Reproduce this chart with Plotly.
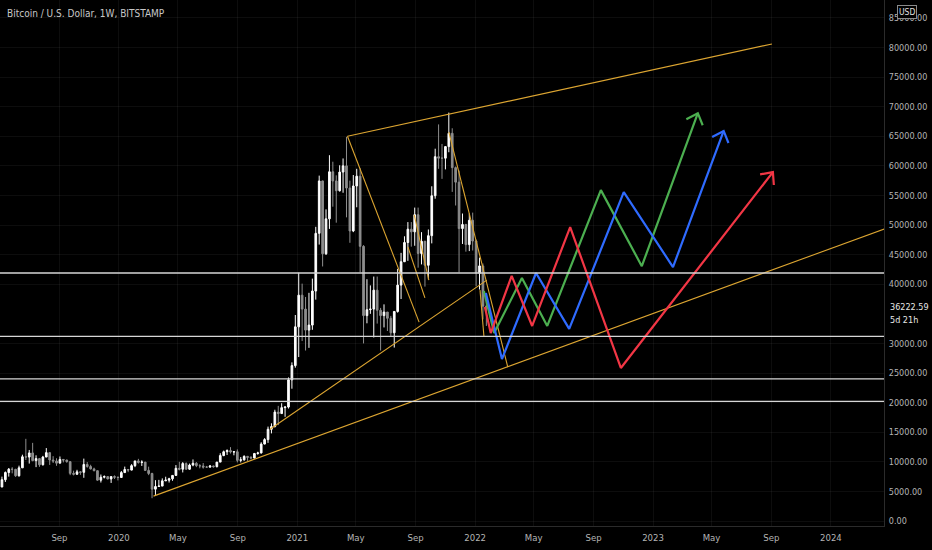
import numpy as np
import pandas as pd
import plotly.graph_objects as go

# weekly BTCUSD candles (Bitstamp), week of 2019-05-06 .. 2022-01-24
opens = [5750, 6980, 8190, 8750, 8730, 7640, 8980, 10850, 10800, 11500,
         10200, 10540, 9500, 10800, 11550, 10300, 10140, 9770, 10400, 10300,
         10030, 8050, 7900, 8300, 8220, 9550, 9200, 8800, 8500, 6900,
         7400, 7500, 7100, 7500, 7400,
         7350, 8180, 8700, 8600, 9350, 10150, 9900, 9950, 8550, 8030,
         5380, 5830, 5900, 6780, 6900, 7130, 7700, 8900, 8750, 9700,
         8750, 9450, 9750, 9350, 9300, 9100, 9100, 9300, 9180, 9950,
         11050, 11700, 11900, 11650, 11700, 10250, 10330, 10920, 10750, 10650,
         11400, 11500, 13000, 13750, 15500, 15950, 18400, 18150, 19150, 19250,
         23850, 26250,
         32800, 38150, 35800, 32250, 33100, 38850, 48600, 57450, 45150, 51050,
         59000, 57450, 55800, 58950, 60000, 56250, 49000, 56600, 58250, 46400,
         34700, 35700, 35800, 39000, 35600, 34700, 35300, 34250, 31800, 35400,
         39850, 43800, 47050, 49300, 48850, 51750, 45200, 47250, 43200, 48200,
         54950, 61550, 61300, 61300, 63250, 65500, 59700, 57250, 49400, 50100,
         46700, 50800,
         47300, 41850, 43100, 36300]
highs = [7500, 8370, 8950, 9090, 8810, 9350, 11200, 13880, 12000, 13200,
         11100, 10650, 11000, 12320, 11550, 10950, 10600, 10900, 10480, 10350,
         10050, 8500, 8650, 8400, 10540, 9950, 9500, 9000, 8500, 7850,
         7700, 7600, 7500, 7700, 7500,
         8450, 9190, 8800, 9600, 10150, 10500, 10250, 9950, 9180, 8150,
         6900, 6950, 7200, 7480, 7300, 7750, 9450, 10000, 9950, 9900,
         9700, 10400, 9950, 9600, 9800, 9300, 9450, 9350, 9950, 11450,
         11900, 12100, 12480, 11800, 12100, 10800, 11100, 10990, 10950, 11500,
         11700, 13300, 14000, 15950, 16500, 18800, 19450, 19900, 19400, 24250,
         26800, 34800,
         41950, 40100, 37850, 38550, 40950, 49700, 58350, 57500, 52650, 61800,
         60700, 58400, 60100, 61250, 64900, 57500, 58450, 59500, 59600, 46600,
         40850, 39800, 41300, 41300, 36000, 36600, 35300, 34650, 35400, 42600,
         45300, 48100, 50500, 50500, 52950, 52950, 48800, 47350, 49250, 56550,
         62900, 67000, 63700, 63000, 69000, 66350, 59900, 59200, 51950, 50200,
         51950, 52100,
         47550, 44500, 43500, 37500]
lows = [5700, 6600, 7500, 8050, 7450, 7500, 8950, 10300, 9700, 10100,
        9100, 9150, 9370, 10800, 9470, 9800, 9320, 9750, 9900, 9850,
        7750, 7700, 7800, 7800, 7300, 9000, 8700, 8400, 6800, 6500,
        7200, 7050, 6430, 7100, 6850,
        7350, 8100, 8250, 8550, 9100, 9700, 9300, 8450, 7750, 3850,
        4400, 5750, 5900, 6750, 6500, 6800, 7650, 8550, 8200, 8700,
        8650, 9250, 9100, 8900, 8850, 8950, 9050, 9000, 9050, 9950,
        10950, 11150, 11400, 11100, 9900, 9900, 10200, 10150, 10400, 10550,
        11200, 11400, 12950, 13200, 14800, 15800, 16200, 18100, 17600, 19000,
        22350, 25900,
        27700, 30400, 28800, 29250, 32300, 37400, 46700, 43000, 44950, 49350,
        53100, 50400, 55650, 55450, 51300, 47000, 48800, 53000, 42000, 30000,
        33400, 35000, 31000, 33350, 28800, 32700, 32100, 31100, 29300, 35200,
        37500, 43750, 43950, 46350, 46500, 42800, 43350, 39600, 40800, 46900,
        54450, 59500, 57800, 59400, 62300, 55600, 53300, 42000, 46800, 45500,
        45600, 45700,
        39650, 39100, 34050, 32950]
closes = [6980, 8190, 8750, 8730, 7640, 8980, 10850, 10800, 11500, 10200,
          10540, 9500, 10800, 11550, 10300, 10140, 9770, 10400, 10300, 10030,
          8050, 7900, 8300, 8220, 9550, 9200, 8800, 8500, 6900, 7400,
          7500, 7100, 7500, 7400, 7350,
          8180, 8700, 8600, 9350, 10150, 9900, 9950, 8550, 8030, 5380,
          5830, 5900, 6780, 6900, 7130, 7700, 8900, 8750, 9700, 8750,
          9450, 9750, 9350, 9300, 9100, 9100, 9300, 9180, 9950, 11050,
          11700, 11900, 11650, 11700, 10250, 10330, 10920, 10750, 10650, 11400,
          11500, 13000, 13750, 15500, 15950, 18400, 18150, 19150, 19250, 23850,
          26250, 32800,
          38150, 35800, 32250, 33100, 38850, 48600, 57450, 45150, 51050, 59000,
          57450, 55800, 58950, 60000, 56250, 49000, 56600, 58250, 46400, 34700,
          35700, 35800, 39000, 35600, 34700, 35300, 34250, 31800, 35400, 39850,
          43800, 47050, 49300, 48850, 51750, 45200, 47250, 43200, 48200, 54950,
          61550, 61300, 61300, 63250, 65500, 59700, 57250, 49400, 50100, 46700,
          50800, 47300,
          41850, 43100, 36300, 36222.59]

# horizontal support / resistance levels
levels = [41900, 31200, 24000, 20200]

# orange trend lines: start date, start price, end date, end price
trend_x0 = ["2021-04-14", "2021-04-14", "2021-08-29", "2021-08-16", "2021-11-08",
            "2020-03-12", "2020-11-06", "2022-01-11"]
trend_y0 = [65000, 65000, 51700, 46300, 65700, 4200, 15500, 39000]
trend_x1 = ["2023-09-02", "2021-09-08", "2021-09-28", "2021-09-20", "2022-03-09",
            "2024-05-15", "2022-01-25", "2022-01-19"]
trend_y1 = [80600, 33600, 40700, 37700, 26000, 50100, 40700, 31250]

# projected paths
green_x = ["2022-01-19", "2022-02-09", "2022-04-07", "2022-05-29", "2022-09-16",
           "2022-12-09", "2023-04-03"]
green_y = [38850, 31750, 41050, 32950, 55900, 43050, 68900]
blue_x = ["2022-01-23", "2022-02-25", "2022-05-06", "2022-07-13", "2022-11-02",
          "2023-02-11", "2023-05-26"]
blue_y = [38500, 27350, 41900, 32450, 55550, 42900, 65900]
red_x = ["2022-01-21", "2022-02-02", "2022-03-17", "2022-04-28", "2022-07-15",
         "2022-10-27", "2023-09-04"]
red_y = [36150, 31750, 41400, 32950, 49650, 25850, 58950]

tick_dates = ["2019-09-01", "2020-01-01", "2020-05-01", "2020-09-01", "2021-01-01",
              "2021-05-01", "2021-09-01", "2022-01-01", "2022-05-01", "2022-09-01",
              "2023-01-01", "2023-05-01", "2023-09-01", "2024-01-01"]
tick_text = ["Sep", "2020", "May", "Sep", "2021", "May", "Sep", "2022", "May", "Sep",
             "2023", "May", "Sep", "2024"]
price_ticks = [0, 5000, 10000, 15000, 20000, 25000, 30000, 40000, 45000, 50000,
               55000, 60000, 65000, 70000, 75000, 80000, 85000]

W, H = 932, 550
M_L, M_R, M_T, M_B = 0, 48, 0, 24
x_range = ["2019-05-02", "2024-04-19"]
y_range = [-845, 88020]

FONT = "Liberation Sans Narrow, DejaVu Sans Condensed, Roboto, sans-serif"
ORANGE = "#dca531"

week_start = pd.date_range("2019-05-06", periods=len(closes), freq="W-MON")

fig = go.Figure()

fig.add_trace(go.Candlestick(
    x=week_start, open=opens, high=highs, low=lows, close=closes,
    increasing=dict(line=dict(color="#ffffff", width=1), fillcolor="#ffffff"),
    decreasing=dict(line=dict(color="#8e8e8e", width=1), fillcolor="#8e8e8e"),
    whiskerwidth=0, showlegend=False, hoverinfo="skip"))

for lv in levels:
    fig.add_hline(y=lv, line=dict(color="#d6d6d6", width=1.3), layer="above")

tx, ty = [], []
for a, b, c, d in zip(trend_x0, trend_y0, trend_x1, trend_y1):
    tx += [a, c, None]
    ty += [b, d, None]
fig.add_trace(go.Scatter(x=tx, y=ty, mode="lines", line=dict(color=ORANGE, width=1.1),
                         showlegend=False, hoverinfo="skip"))

# pixel scale, used to give the arrowheads a fixed on-screen size
x0_ts, x1_ts = pd.Timestamp(x_range[0]), pd.Timestamp(x_range[1])
px_per_day = (W - M_L - M_R) / ((x1_ts - x0_ts).days)
px_per_usd = (H - M_T - M_B) / (y_range[1] - y_range[0])


def arrow_head(xs, ys, length=13, angle=42):
    tip_t, prev_t = pd.Timestamp(xs[-1]), pd.Timestamp(xs[-2])
    dx = (tip_t - prev_t).days * px_per_day
    dy = (ys[-1] - ys[-2]) * px_per_usd
    n = np.hypot(dx, dy)
    ux, uy = -dx / n, -dy / n
    hx, hy = [], []
    for sgn in (1, -1):
        a = np.radians(angle * sgn)
        rx = ux * np.cos(a) - uy * np.sin(a)
        ry = ux * np.sin(a) + uy * np.cos(a)
        hx.append(tip_t + pd.Timedelta(days=rx * length / px_per_day))
        hy.append(ys[-1] + ry * length / px_per_usd)
    return [hx[0], tip_t, hx[1]], [hy[0], ys[-1], hy[1]]


for xs, ys, col in [(green_x, green_y, "#4caf50"), (blue_x, blue_y, "#2f6bff"),
                    (red_x, red_y, "#f23645")]:
    fig.add_trace(go.Scatter(x=xs, y=ys, mode="lines", line=dict(color=col, width=2.2),
                             showlegend=False, hoverinfo="skip"))
    ax_, ay_ = arrow_head(xs, ys)
    fig.add_trace(go.Scatter(x=ax_, y=ay_, mode="lines", line=dict(color=col, width=2.2),
                             showlegend=False, hoverinfo="skip"))

fig.add_annotation(text="Bitcoin / U.S. Dollar, 1W, BITSTAMP", xref="paper", yref="paper",
                   x=0, y=1, xanchor="left", yanchor="top", xshift=5, yshift=-6,
                   showarrow=False, font=dict(family=FONT, size=10, color="#c8c8c8"))
fig.add_annotation(text="USD", xref="paper", yref="paper", x=1, y=1, xanchor="left",
                   yanchor="top", xshift=13, yshift=-5, showarrow=False,
                   bgcolor="#000000", bordercolor="#8a8a8a", borderwidth=1, borderpad=1,
                   font=dict(family=FONT, size=8.5, color="#e0e0e0"))
fig.add_annotation(text=f"{closes[-1]:.2f}", xref="paper", yref="y", x=1, y=closes[-1],
                   xanchor="left", yanchor="middle", xshift=4, showarrow=False,
                   font=dict(family=FONT, size=9, color="#e6e6e6"))
fig.add_annotation(text="5d 21h", xref="paper", yref="y", x=1, y=closes[-1],
                   xanchor="left", yanchor="middle", xshift=4, yshift=-13, showarrow=False,
                   font=dict(family=FONT, size=9, color="#e6e6e6"))

fig.update_layout(
    width=W, height=H,
    margin=dict(l=M_L, r=M_R, t=M_T, b=M_B),
    paper_bgcolor="#000000", plot_bgcolor="#000000",
    showlegend=False,
    xaxis=dict(range=x_range, rangeslider=dict(visible=False),
               tickvals=tick_dates, ticktext=tick_text, ticks="", ticklabelstandoff=3,
               showgrid=True, gridcolor="rgba(255,255,255,0.05)", zeroline=False,
               showline=True, linecolor="#2b2b2b", linewidth=1,
               tickfont=dict(family=FONT, size=9.5, color="#b4b4b4")),
    yaxis=dict(range=y_range, side="right", tickvals=price_ticks, tickformat=".2f",
               ticks="", ticklabelstandoff=2,
               showgrid=True, gridcolor="rgba(255,255,255,0.05)", zeroline=False,
               showline=True, linecolor="#2b2b2b", linewidth=1,
               tickfont=dict(family=FONT, size=9, color="#b4b4b4")),
)

# page body has a default 8px margin; drop it so the figure fills the window
fig.write_html("out.html", config={"displayModeBar": False},
               post_script="document.body.style.margin='0px';")
